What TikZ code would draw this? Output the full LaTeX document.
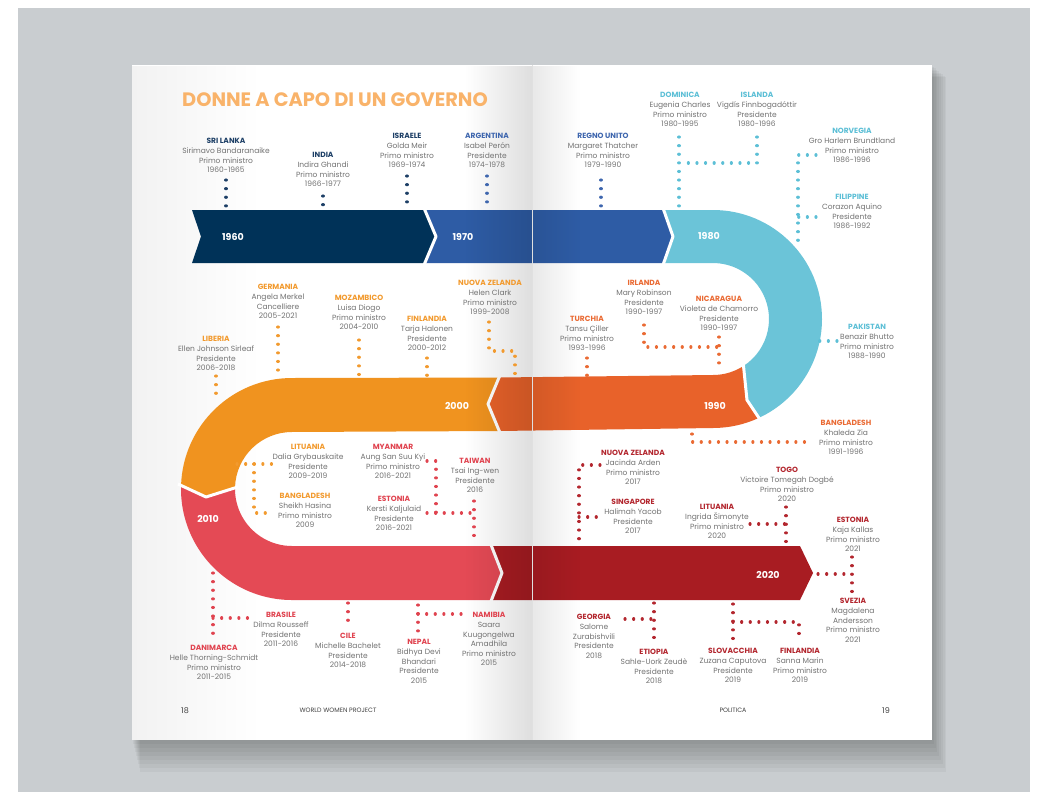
\documentclass[tikz,border=0pt]{standalone}
\usepackage{fontspec}
\setmainfont{Poppins}
\usetikzlibrary{fadings}
\definecolor{navy}{HTML}{003258}
\definecolor{blueS}{HTML}{2E5CA5}
\definecolor{tealS}{HTML}{6BC4D8}
\definecolor{redS}{HTML}{E8622A}
\definecolor{orS}{HTML}{F0931F}
\definecolor{pinkS}{HTML}{E44A55}
\definecolor{dredS}{HTML}{A81C22}
\definecolor{navyT}{HTML}{1D3F66}
\definecolor{blueT}{HTML}{3E66AE}
\definecolor{tealT}{HTML}{5CBFD6}
\definecolor{redT}{HTML}{EA6A33}
\definecolor{orT}{HTML}{F29A2E}
\definecolor{pinkT}{HTML}{E0434F}
\definecolor{dredT}{HTML}{B3262E}
\definecolor{bodyT}{HTML}{727272}
\definecolor{titleC}{HTML}{F9B36A}
\definecolor{bgGray}{HTML}{C9CDD0}
\tikzfading[name=fadeR, left color=transparent!100, right color=transparent!0]
\tikzfading[name=fadeL, left color=transparent!0, right color=transparent!100]
\tikzset{
 lbl/.style={anchor=north, inner sep=0pt, align=center, text=bodyT, font=\fontsize{7.5}{9.6}\selectfont},
 yr/.style={text=white, font=\bfseries\fontsize{9.5}{11}\selectfont, inner sep=0pt},
 dots/.style={line width=3.1pt, line cap=round, dash pattern=on 0.1pt off 8.5pt},
 sep/.style={white, line width=3pt, line join=round},
 foot/.style={inner sep=0pt, text=black!75, font=\fontsize{6.3}{8}\selectfont},
}
\newcommand{\lbl}[6]{\node[lbl] (#1) at (#2,#3-3.25) {\rule{0pt}{6pt}\textcolor{#4}{\bfseries #5}\\#6};}
\begin{document}
\begin{tikzpicture}[x=1pt,y=-1pt]
\useasboundingbox (0,0) rectangle (1047,796);
\fill[white] (0,0) rectangle (1047,796);
\fill[bgGray] (18,8) rectangle (1030,792);
% shadow
\foreach \i in {1,...,8} {\fill[black, opacity=0.035] (132+\i*1.0, 65+\i*1.5) rectangle (932+\i*1.8, 740+\i*4);}
% pages
\fill[white] (132,65) rectangle (932,740);
\fill[black, opacity=0.05, path fading=fadeL] (132,65) rectangle (260,740);

% ribbon
\fill[navy] (192,210) -- (424,210) -- (436,236.5) -- (424,263) -- (192,263) -- (201,236.5) -- cycle;
\fill[blueS] (424,210) -- (663,210) -- (673,236.5) -- (663,263) -- (424,263) -- (436,236.5) -- cycle;
\fill[tealS] (663,210) -- (713,210) arc[start angle=-90, end angle=65, radius=109] -- (747,400) -- (743.5,366) arc[start angle=57, end angle=-90, radius=56] -- (663,263) -- (673,236.5) -- cycle;
\fill[redS] (499,377.5) -- (713,375) arc[start angle=90, end angle=57, radius=56] -- (747,400) -- (759.07,417.79) arc[start angle=65, end angle=90, radius=109] -- (499,431) -- (488,404) -- cycle;
\fill[orS] (499,377.5) -- (292,378) arc[start angle=-90, end angle=-178, radius=111] -- (206,497) -- (235.03,487) arc[start angle=182, end angle=270, radius=57] -- (499,431) -- (488,404) -- cycle;
\fill[pinkS] (181.07,485.13) arc[start angle=-178, end angle=-270, radius=111] -- (491,600) -- (502,573) -- (491,546) -- (292,546) arc[start angle=90, end angle=182, radius=57] -- (206,497) -- cycle;
\fill[dredS] (491,546) -- (800,546) -- (813,573) -- (800,600) -- (491,600) -- (502,573) -- cycle;
\draw[sep] (424,208) -- (436,236.5) -- (424,265);
\draw[sep] (663,208) -- (673,236.5) -- (663,265);
\draw[sep] (742.9,360) -- (747,400) -- (761,421);
\draw[sep] (500.5,374) -- (488,404) -- (500.5,434);
\draw[sep] (178,484) -- (206,497) -- (238,486.9);
\draw[sep] (490.3,543) -- (502,573) -- (490.3,603);

% spine
\fill[black, opacity=0.13, path fading=fadeR] (465,65) rectangle (532,740);
\fill[black, opacity=0.09, path fading=fadeL] (532,65) rectangle (580,740);
\draw[black!12, line width=0.4pt] (532,65) -- (532,740);

% years
\node[yr] (y1960) at (233,236.5) {1960};
\node[yr] (y1970) at (463,236.5) {1970};
\node[yr] (y1980) at (709,236.5) {1980};
\node[yr] (y1990) at (715,406) {1990};
\node[yr] (y2000) at (457,406) {2000};
\node[yr] (y2010) at (208,519) {2010};
\node[yr] (y2020) at (768,575) {2020};

% title
\node[anchor=base west, inner sep=0pt, text=titleC, font=\bfseries\fontsize{19.4}{21}\selectfont] (title) at (182,106) {DONNE A CAPO DI UN GOVERNO};

% labels
\lbl{srilanka}{226}{141}{navyT}{SRI LANKA}{Sirimavo Bandaranaike\\Primo ministro\\1960-1965}
\lbl{india}{323}{155}{navyT}{INDIA}{Indira Ghandi\\Primo ministro\\1966-1977}
\lbl{israele}{407}{136}{navyT}{ISRAELE}{Golda Meir\\Primo ministro\\1969-1974}
\lbl{argentina}{487}{136}{blueT}{ARGENTINA}{Isabel Perón\\Presidente\\1974-1978}
\lbl{regno}{603}{136}{blueT}{REGNO UNITO}{Margaret Thatcher\\Primo ministro\\1979-1990}
\lbl{dominica}{680}{95}{tealT}{DOMINICA}{Eugenia Charles\\Primo ministro\\1980-1995}
\lbl{islanda}{757}{95}{tealT}{ISLANDA}{Vigdís Finnbogadóttir\\Presidente\\1980-1996}
\lbl{norvegia}{852}{131}{tealT}{NORVEGIA}{Gro Harlem Brundtland\\Primo ministro\\1986-1996}
\lbl{filippine}{852}{197}{tealT}{FILIPPINE}{Corazon Aquino\\Presidente\\1986-1992}
\lbl{pakistan}{867}{327}{tealT}{PAKISTAN}{Benazir Bhutto\\Primo ministro\\1988-1990}
\lbl{irlanda}{644}{283}{redT}{IRLANDA}{Mary Robinson\\Presidente\\1990-1997}
\lbl{nicaragua}{719}{299}{redT}{NICARAGUA}{Violeta de Chamorro\\Presidente\\1990-1997}
\lbl{turchia}{587}{319}{redT}{TURCHIA}{Tansu Çiller\\Primo ministro\\1993-1996}
\lbl{banglaA}{846}{423}{redT}{BANGLADESH}{Khaleda Zia\\Primo ministro\\1991-1996}
\lbl{nzA}{490}{283}{orT}{NUOVA ZELANDA}{Helen Clark\\Primo ministro\\1999-2008}
\lbl{finlA}{427}{319}{orT}{FINLANDIA}{Tarja Halonen\\Presidente\\2000-2012}
\lbl{mozambico}{359}{298}{orT}{MOZAMBICO}{Luisa Diogo\\Primo ministro\\2004-2010}
\lbl{germania}{278}{287}{orT}{GERMANIA}{Angela Merkel\\Cancelliere\\2005-2021}
\lbl{liberia}{216}{339}{orT}{LIBERIA}{Ellen Johnson Sirleaf\\Presidente\\2006-2018}
\lbl{lituaniaA}{308}{447}{orT}{LITUANIA}{Dalia Grybauskaite\\Presidente\\2009-2019}
\lbl{banglaB}{305}{496}{orT}{BANGLADESH}{Sheikh Hasina\\Primo ministro\\2009}
\lbl{myanmar}{393}{447}{pinkT}{MYANMAR}{Aung San Suu Kyi\\Primo ministro\\2016-2021}
\lbl{taiwan}{475}{461}{pinkT}{TAIWAN}{Tsai Ing-wen\\Presidente\\2016}
\lbl{estoniaA}{394}{499}{pinkT}{ESTONIA}{Kersti Kaljulaid\\Presidente\\2016-2021}
\lbl{nzB}{633}{453}{dredT}{NUOVA ZELANDA}{Jacinda Arden\\Primo ministro\\2017}
\lbl{singapore}{633}{502}{dredT}{SINGAPORE}{Halimah Yacob\\Presidente\\2017}
\lbl{togo}{787}{470}{dredT}{TOGO}{Victoire Tomegah Dogbé\\Primo ministro\\2020}
\lbl{lituaniaB}{717}{507}{dredT}{LITUANIA}{Ingrida Šimonyte\\Primo ministro\\2020}
\lbl{estoniaB}{853}{520}{dredT}{ESTONIA}{Kaja Kallas\\Primo ministro\\2021}
\lbl{svezia}{853}{601}{dredT}{SVEZIA}{Magdalena\\Andersson\\Primo ministro\\2021}
\lbl{georgia}{594}{617}{dredT}{GEORGIA}{Salome\\Zurabishvili\\Presidente\\2018}
\lbl{etiopia}{654}{652}{dredT}{ETIOPIA}{Sahle-Uork Zeudè\\Presidente\\2018}
\lbl{slovacchia}{733}{651}{dredT}{SLOVACCHIA}{Zuzana Caputova\\Presidente\\2019}
\lbl{finlB}{800}{651}{dredT}{FINLANDIA}{Sanna Marin\\Primo ministro\\2019}
\lbl{danimarca}{214}{648}{pinkT}{DANIMARCA}{Helle Thorning-Schmidt\\Primo ministro\\2011-2015}
\lbl{brasile}{281}{615}{pinkT}{BRASILE}{Dilma Rousseff\\Presidente\\2011-2016}
\lbl{cile}{348}{636}{pinkT}{CILE}{Michelle Bachelet\\Presidente\\2014-2018}
\lbl{nepal}{419}{642}{pinkT}{NEPAL}{Bidhya Devi\\Bhandari\\Presidente\\2015}
\lbl{namibia}{489}{615}{pinkT}{NAMIBIA}{Saara\\Kuugongelwa\\Amadhila\\Primo ministro\\2015}

% connectors
\draw[dots, navyT] (226,180) -- (226,206);
\draw[dots, navyT] (323,196) -- (323,206);
\draw[dots, navyT] (407,176) -- (407,209);
\draw[dots, blueT] (487,176) -- (487,209);
\draw[dots, blueT] (601,180) -- (601,206);
\draw[dots, tealT] (679,137) -- (679,207);
\draw[dots, tealT] (757,137) -- (757,163) -- (687,163);
\draw[dots, tealT] (816,155) -- (798,155) -- (798,245);
\draw[dots, tealT] (816,217) -- (798,217);
\draw[dots, tealT] (837,341) -- (819,341);
\draw[dots, redT] (644,325) -- (644,347) -- (719,347);
\draw[dots, redT] (719,337) -- (719,371);
\draw[dots, redT] (587,358) -- (587,376);
\draw[dots, redT] (692,434) -- (692,442) -- (810,442);
\draw[dots, orT] (489,322) -- (489,351) -- (515,351) -- (515,376);
\draw[dots, orT] (427,358) -- (427,376);
\draw[dots, orT] (359,340) -- (359,376);
\draw[dots, orT] (278,327) -- (278,372);
\draw[dots, orT] (216,376) -- (216,401);
\draw[dots, orT] (237,464) -- (272,464);
\draw[dots, orT] (254,464) -- (254,513) -- (272,513);
\draw[dots, pinkT] (427,461) -- (436,461) -- (436,513);
\draw[dots, pinkT] (427,513) -- (474,513);
\draw[dots, pinkT] (474,501) -- (474,541);
\draw[dots, dredT] (600,465) -- (579,465) -- (579,543);
\draw[dots, dredT] (579,517) -- (600,517);
\draw[dots, dredT] (786,507) -- (786,542);
\draw[dots, dredT] (750,524) -- (786,524);
\draw[dots, dredT] (818,574) -- (852,574);
\draw[dots, dredT] (852,557) -- (852,592);
\draw[dots, dredT] (654,603) -- (654,645);
\draw[dots, dredT] (625,619) -- (654,619);
\draw[dots, dredT] (733,604) -- (733,641);
\draw[dots, dredT] (733,622) -- (799,622) -- (799,641);
\draw[dots, pinkT] (213,573) -- (213,636);
\draw[dots, pinkT] (213,618) -- (248,618);
\draw[dots, pinkT] (348,603) -- (348,627);
\draw[dots, pinkT] (418,605) -- (418,631);
\draw[dots, pinkT] (418,614) -- (466,614);

% footer
\node[foot, anchor=base west, font=\fontsize{8}{9}\selectfont] (p18) at (181,713) {18};
\node[foot] (wwp) at (338,710) {WORLD WOMEN PROJECT};
\node[foot] (pol) at (733,710) {POLITICA};
\node[foot, anchor=base east, font=\fontsize{8}{9}\selectfont] (p19) at (890,713) {19};
\end{tikzpicture}
\end{document}
